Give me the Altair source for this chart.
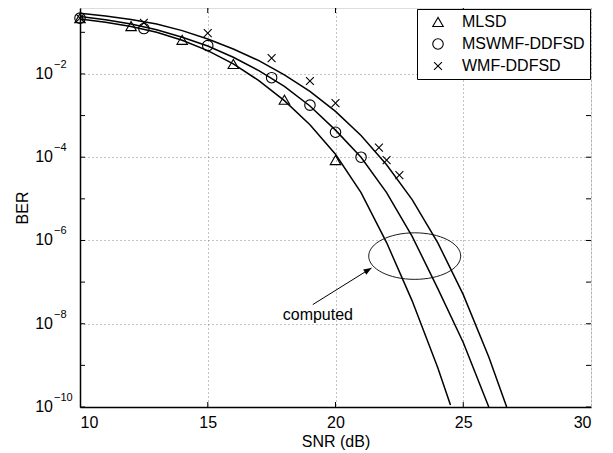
import altair as alt
import pandas as pd

# ---------------- data ----------------
series_names = ["MLSD", "MSWMF-DDFSD", "WMF-DDFSD"]

# computed (theory) curves: SNR in dB and log10(BER)
mlsd_curve_snr = [10, 11, 12, 13, 14, 15, 16, 17, 18, 19, 20, 21, 22, 23, 24, 24.5]
mlsd_curve_log = [-0.68, -0.76, -0.86, -1.0, -1.19, -1.44, -1.76, -2.16, -2.64, -3.22,
                  -3.93, -4.85, -6.05, -7.45, -9.05, -9.95]
msw_curve_snr = [10, 11, 12, 13, 14, 15, 16, 17, 18, 19, 20, 21, 22, 23, 24, 25, 26]
msw_curve_log = [-0.62, -0.70, -0.80, -0.94, -1.12, -1.33, -1.60, -1.92, -2.30, -2.77,
                 -3.35, -4.0, -4.85, -5.9, -7.15, -8.45, -10.0]
wmf_curve_snr = [10, 11, 12, 13, 14, 15, 16, 17, 18, 19, 20, 21, 22, 23, 24, 25, 26, 26.7]
wmf_curve_log = [-0.54, -0.61, -0.69, -0.80, -0.96, -1.16, -1.40, -1.68, -2.02, -2.42,
                 -2.90, -3.48, -4.18, -5.02, -6.05, -7.30, -8.80, -10.0]

# simulated points
mlsd_pts_snr = [10, 12, 14, 16, 18, 20]
mlsd_pts_log = [-0.66, -0.85, -1.18, -1.76, -2.62, -4.07]
msw_pts_snr = [10, 12.5, 15, 17.5, 19, 20, 21]
msw_pts_log = [-0.66, -0.91, -1.32, -2.09, -2.75, -3.40, -4.0]
wmf_pts_snr = [10, 12.5, 15, 17.5, 19, 20, 21.7, 22, 22.5]
wmf_pts_log = [-0.66, -0.77, -1.02, -1.62, -2.17, -2.70, -3.77, -4.07, -4.43]

x_ticks = [10, 15, 20, 25, 30]
y_label_exps = [-10, -8, -6, -4, -2]
y_tick_exps = [-10, -9, -8, -7, -6, -5, -4, -3, -2, -1]

annot_text = "computed"
annot_text_pos = (19.31, -7.79)
arrow_from = (19.11, -7.54)
arrow_to = (21.41, -6.66)
ellipse_center = (23.1, -6.375)

# ---------------- tables ----------------
def table(snr, logs, name):
    return pd.DataFrame({"snr": snr, "ber": [10.0 ** v for v in logs], "series": name})

curves = pd.concat([
    table(mlsd_curve_snr, mlsd_curve_log, series_names[0]),
    table(msw_curve_snr, msw_curve_log, series_names[1]),
    table(wmf_curve_snr, wmf_curve_log, series_names[2]),
])
points = pd.concat([
    table(mlsd_pts_snr, mlsd_pts_log, series_names[0]),
    table(msw_pts_snr, msw_pts_log, series_names[1]),
    table(wmf_pts_snr, wmf_pts_log, series_names[2]),
])

W, H = 511, 399
FONT = "Liberation Sans"
TOP = 10 ** -0.416

xs = alt.Scale(domain=[10, 30], nice=False, zero=False)
ys = alt.Scale(type="log", domain=[1e-10, TOP], nice=False)

cross_path = "M -0.75 -0.75 L 0.75 0.75 M -0.75 0.75 L 0.75 -0.75"

x_enc = alt.X("snr:Q", scale=xs, axis=alt.Axis(
    values=x_ticks, title="SNR (dB)", grid=True, gridDash=[1, 3], gridColor="#888",
    gridWidth=1, ticks=False, labelPadding=7, labelFontSize=16, labelFont=FONT,
    titleFontSize=16, titleFont=FONT, titleFontWeight="normal", titlePadding=3,
    domainColor="black", domainWidth=1.5, labelColor="black", titleColor="black"))
y_enc = alt.Y("ber:Q", scale=ys, axis=alt.Axis(
    values=[10.0 ** e for e in y_label_exps], title="BER", grid=True, gridDash=[1, 3],
    gridColor="#888", gridWidth=1, ticks=False, labels=False, titleFontSize=16,
    titleFont=FONT, titleFontWeight="normal", titleColor="black", titleX=-58,
    titleY=H / 2, titleAlign="center", titleBaseline="middle", titleAngle=270,
    domainColor="black", domainWidth=1.5))

lines = alt.Chart(curves).mark_line(color="black", strokeWidth=1.5, clip=True).encode(
    x=x_enc, y=y_enc, detail="series:N", order="snr:Q")

pts = alt.Chart(points).mark_point(filled=False, color="black", strokeWidth=1.1, size=110, opacity=1).encode(
    x=alt.X("snr:Q", scale=xs),
    y=alt.Y("ber:Q", scale=ys),
    shape=alt.Shape("series:N", scale=alt.Scale(domain=series_names,
                    range=["triangle-up", "circle", cross_path]),
                    legend=alt.Legend(title=None, orient="top-right", offset=1,
                                      padding=5, rowPadding=6, labelFontSize=16,
                                      labelFont=FONT, labelColor="black",
                                      strokeColor="black", fillColor="white",
                                      symbolSize=110, symbolStrokeColor="black",
                                      symbolStrokeWidth=1.1, labelOffset=16,
                                      symbolOffset=8, cornerRadius=0)))

# annotation
ell_df = pd.DataFrame({"snr": [ellipse_center[0]], "ber": [10 ** ellipse_center[1]]})
ellipse = alt.Chart(ell_df).mark_point(
    shape="M -1 0 A 1 0.506 0 1 0 1 0 A 1 0.506 0 1 0 -1 0 Z",
    size=8464, filled=False, color="black", strokeWidth=0.9, opacity=1).encode(
    x=alt.X("snr:Q", scale=xs), y=alt.Y("ber:Q", scale=ys))

arr_df = pd.DataFrame({"snr": [arrow_from[0]], "ber": [10 ** arrow_from[1]],
                       "snr2": [arrow_to[0]], "ber2": [10 ** arrow_to[1]]})
arrow = alt.Chart(arr_df).mark_rule(color="black", strokeWidth=1).encode(
    x=alt.X("snr:Q", scale=xs), y=alt.Y("ber:Q", scale=ys), x2="snr2:Q", y2="ber2:Q")
head_df = pd.DataFrame({"snr": [arrow_to[0]], "ber": [10 ** arrow_to[1]]})
head = alt.Chart(head_df).mark_point(
    shape="M 0 0 L -0.38 1 L 0.38 1 Z", size=256, filled=True, color="black",
    opacity=1, angle=58).encode(x=alt.X("snr:Q", scale=xs), y=alt.Y("ber:Q", scale=ys))

txt_df = pd.DataFrame({"snr": [annot_text_pos[0]], "ber": [10 ** annot_text_pos[1]],
                       "t": [annot_text]})
label = alt.Chart(txt_df).mark_text(fontSize=16, font=FONT, color="black").encode(
    x=alt.X("snr:Q", scale=xs), y=alt.Y("ber:Q", scale=ys), text="t:N")

# inward ticks on all four sides
yt = pd.DataFrame({"ber": [10.0 ** e for e in y_tick_exps]})
ytick_l = alt.Chart(yt).mark_rule(color="black", strokeWidth=1).encode(
    y=alt.Y("ber:Q", scale=ys), x=alt.value(0), x2=alt.value(5))
ytick_r = alt.Chart(yt).mark_rule(color="black", strokeWidth=1).encode(
    y=alt.Y("ber:Q", scale=ys), x=alt.value(W - 5), x2=alt.value(W))
xt = pd.DataFrame({"snr": x_ticks[1:-1]})
xtick_b = alt.Chart(xt).mark_rule(color="black", strokeWidth=1).encode(
    x=alt.X("snr:Q", scale=xs), y=alt.value(H - 5), y2=alt.value(H))
xtick_t = alt.Chart(xt).mark_rule(color="black", strokeWidth=1).encode(
    x=alt.X("snr:Q", scale=xs), y=alt.value(0), y2=alt.value(5))

# y tick labels 10^e
yl = pd.DataFrame({"ber": [10.0 ** e for e in y_label_exps],
                   "base": ["10"] * len(y_label_exps),
                   "exp": ["\u2212" + str(-e) for e in y_label_exps]})
ylab_base = alt.Chart(yl).mark_text(align="right", baseline="middle", fontSize=16,
                                    font=FONT, color="black").encode(
    y=alt.Y("ber:Q", scale=ys), x=alt.value(-27), text="base:N")
ylab_exp = alt.Chart(yl).mark_text(align="left", baseline="middle", fontSize=11,
                                   font=FONT, color="black", dy=-9).encode(
    y=alt.Y("ber:Q", scale=ys), x=alt.value(-26), text="exp:N")

chart = alt.layer(
    lines, ytick_l, ytick_r, xtick_b, xtick_t, ellipse, arrow, head, label,
    ylab_base, ylab_exp, pts
).properties(
    width=W, height=H,
    autosize=alt.AutoSizeParams(type="none"),
    padding={"left": 72, "top": 0, "right": 14, "bottom": 46},
).configure_view(stroke="black", strokeWidth=1).configure(background="white")

chart.save("out.html", embed_options={"renderer": "svg", "actions": False})
